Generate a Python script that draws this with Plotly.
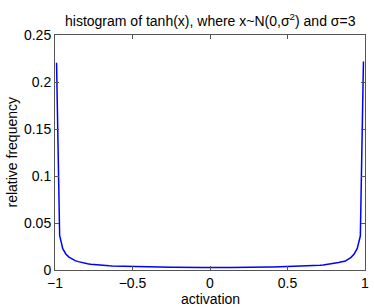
import numpy as np
import plotly.graph_objects as go

# bin centers of 100 bins on [-1, 1]
bin_centers = np.round(np.linspace(-0.99, 0.99, 100), 2)

# relative frequency, left half (x = -0.99 ... -0.01)
freq_left = [0.2205, 0.0368, 0.0226, 0.0171, 0.0137, 0.0115, 0.0100, 0.0089, 0.0080, 0.0073,
             0.0067, 0.0062, 0.0058, 0.0055, 0.0051, 0.0049, 0.0047, 0.0044, 0.0042, 0.0041,
             0.0040, 0.0038, 0.0037, 0.0036, 0.0035, 0.0034, 0.0034, 0.0033, 0.0032, 0.0032,
             0.0031, 0.0030, 0.0030, 0.0029, 0.0029, 0.0029, 0.0028, 0.0028, 0.0028, 0.0027,
             0.0027, 0.0027, 0.0027, 0.0027, 0.0027, 0.0026, 0.0027, 0.0026, 0.0027, 0.0026]
# right half (x = 0.01 ... 0.99)
freq_right = [0.0026, 0.0027, 0.0026, 0.0027, 0.0027, 0.0027, 0.0027, 0.0028, 0.0027, 0.0028,
              0.0028, 0.0028, 0.0029, 0.0029, 0.0029, 0.0030, 0.0030, 0.0031, 0.0031, 0.0032,
              0.0032, 0.0033, 0.0033, 0.0034, 0.0035, 0.0036, 0.0036, 0.0037, 0.0039, 0.0040,
              0.0041, 0.0043, 0.0044, 0.0047, 0.0049, 0.0051, 0.0054, 0.0058, 0.0062, 0.0066,
              0.0072, 0.0079, 0.0087, 0.0092, 0.0114, 0.0135, 0.0169, 0.0229, 0.0364, 0.2218]
freq = freq_left + freq_right

x_ticks = [-1, -0.5, 0, 0.5, 1]
x_tick_labels = ["\u22121", "\u22120.5", "0", "0.5", "1"]
y_ticks = [0, 0.05, 0.1, 0.15, 0.2, 0.25]
y_tick_labels = ["0", "0.05", "0.1", "0.15", "0.2", "0.25"]

title_text = "histogram of tanh(x), where x~N(0,\u03c3<sup>2</sup>) and \u03c3=3"
x_title = "activation"
y_title = "relative frequency"

fig = go.Figure()
fig.add_trace(go.Scatter(x=bin_centers, y=freq, mode="lines",
                         line=dict(color="#0000ff", width=1.5), showlegend=False))

axis_common = dict(showline=True, linecolor="#555555", linewidth=1, mirror="ticks",
                   ticks="inside", ticklen=4, tickcolor="#555555", showgrid=False,
                   zeroline=False, automargin=False,
                   tickfont=dict(size=14, color="#000000"))

fig.update_layout(
    width=374, height=308,
    margin=dict(l=55, r=9, t=35, b=38, autoexpand=False),
    paper_bgcolor="white", plot_bgcolor="white",
    font=dict(family="Liberation Sans, Arial, sans-serif", color="#000000", size=14),
    xaxis=dict(range=[-1, 1], tickvals=x_ticks, ticktext=x_tick_labels, **axis_common),
    yaxis=dict(range=[0, 0.25], tickvals=y_ticks, ticktext=y_tick_labels, **axis_common),
    annotations=[
        dict(text=title_text, xref="paper", yref="paper", x=0.5, y=1.0, yshift=15,
             xanchor="center", yanchor="middle", showarrow=False, font=dict(size=14)),
        dict(text=x_title, xref="paper", yref="paper", x=0.5, y=0, yshift=-29,
             xanchor="center", yanchor="middle", showarrow=False, font=dict(size=14)),
        dict(text=y_title, xref="paper", yref="paper", x=0, y=0.5, xshift=-44,
             xanchor="center", yanchor="middle", showarrow=False, textangle=-90,
             font=dict(size=14)),
    ],
)

fig.write_html("out.html", config={"displayModeBar": False},
               post_script="document.body.style.margin='0';document.body.style.padding='0';")
